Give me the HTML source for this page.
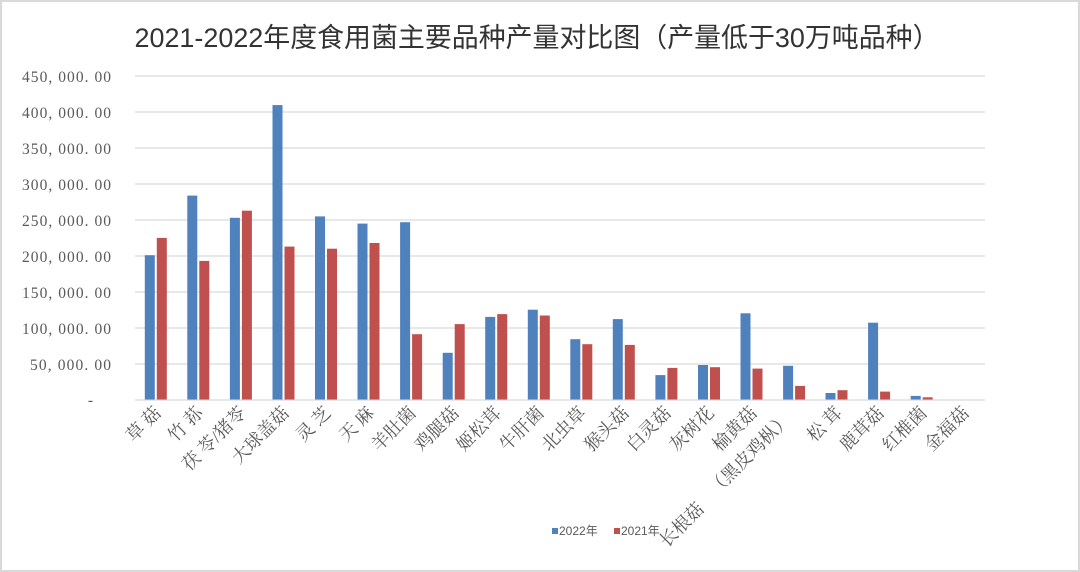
<!DOCTYPE html>
<html><head><meta charset="utf-8"><style>
html,body{margin:0;padding:0;background:#fff}
svg{display:block}
.yl{font-family:"Liberation Serif","Noto Serif CJK SC",serif;font-size:15.5px;fill:#595959;text-anchor:end}
.xl{font-family:"Liberation Serif","Noto Serif CJK SC",serif;font-size:18px;fill:#595959;text-anchor:end}
</style></head><body>
<svg width="1080" height="572" viewBox="0 0 1080 572" xmlns="http://www.w3.org/2000/svg">
<rect x="1" y="1" width="1078" height="570" fill="#fff" stroke="#d9d9d9" stroke-width="2"/>
<text x="537" y="47" text-anchor="middle" font-family="Liberation Sans,'Noto Sans CJK SC',sans-serif" font-size="27" fill="#333" textLength="805" lengthAdjust="spacingAndGlyphs">2021-2022年度食用菌主要品种产量对比图（产量低于30万吨品种）</text>
<g stroke="#d9d9d9" stroke-width="1.3">
<line x1="135" x2="985" y1="76" y2="76"/><line x1="135" x2="985" y1="112" y2="112"/><line x1="135" x2="985" y1="148" y2="148"/><line x1="135" x2="985" y1="184" y2="184"/><line x1="135" x2="985" y1="220" y2="220"/><line x1="135" x2="985" y1="256" y2="256"/><line x1="135" x2="985" y1="292" y2="292"/><line x1="135" x2="985" y1="328" y2="328"/><line x1="135" x2="985" y1="364" y2="364"/><line x1="135" x2="985" y1="400" y2="400"/>
</g>
<g class="yl" lengthAdjust="spacing">
<text x="111" y="82" textLength="89">450, 000. 00</text><text x="111" y="118" textLength="89">400, 000. 00</text><text x="111" y="154" textLength="89">350, 000. 00</text><text x="111" y="190" textLength="89">300, 000. 00</text><text x="111" y="226" textLength="89">250, 000. 00</text><text x="111" y="262" textLength="89">200, 000. 00</text><text x="111" y="298" textLength="89">150, 000. 00</text><text x="111" y="334" textLength="89">100, 000. 00</text><text x="111" y="370" textLength="81">50, 000. 00</text><text x="93" y="405">-</text>
</g>
<g fill="#4f81bd">
<rect x="144.8" y="255.2" width="10" height="144.3"/>
<rect x="187.3" y="195.6" width="10" height="203.9"/>
<rect x="229.9" y="217.8" width="10" height="181.7"/>
<rect x="272.5" y="105.1" width="10" height="294.4"/>
<rect x="315" y="216.4" width="10" height="183.1"/>
<rect x="357.5" y="223.6" width="10" height="175.9"/>
<rect x="400.1" y="222.2" width="10" height="177.3"/>
<rect x="442.7" y="352.8" width="10" height="46.7"/>
<rect x="485.2" y="316.9" width="10" height="82.6"/>
<rect x="527.8" y="309.7" width="10" height="89.8"/>
<rect x="570.3" y="339.2" width="10" height="60.3"/>
<rect x="612.8" y="319.1" width="10" height="80.4"/>
<rect x="655.4" y="375.1" width="10" height="24.4"/>
<rect x="698" y="365" width="10" height="34.5"/>
<rect x="740.5" y="313.3" width="10" height="86.2"/>
<rect x="783.1" y="365.8" width="10" height="33.7"/>
<rect x="825.5" y="393" width="10" height="6.5"/>
<rect x="868.1" y="322.7" width="10" height="76.8"/>
<rect x="910.7" y="395.9" width="10" height="3.6"/>
</g>
<g fill="#c0504d">
<rect x="156.8" y="237.9" width="10" height="161.6"/>
<rect x="199.3" y="260.9" width="10" height="138.6"/>
<rect x="241.9" y="210.7" width="10" height="188.8"/>
<rect x="284.5" y="246.6" width="10" height="152.9"/>
<rect x="327" y="248.7" width="10" height="150.8"/>
<rect x="369.5" y="243" width="10" height="156.5"/>
<rect x="412.1" y="334.2" width="10" height="65.3"/>
<rect x="454.7" y="324.1" width="10" height="75.4"/>
<rect x="497.2" y="314.1" width="10" height="85.4"/>
<rect x="539.8" y="315.5" width="10" height="84"/>
<rect x="582.3" y="344.2" width="10" height="55.3"/>
<rect x="624.8" y="344.9" width="10" height="54.6"/>
<rect x="667.4" y="367.9" width="10" height="31.6"/>
<rect x="710" y="367.2" width="10" height="32.3"/>
<rect x="752.5" y="368.6" width="10" height="30.9"/>
<rect x="795.1" y="385.9" width="10" height="13.6"/>
<rect x="837.5" y="390.2" width="10" height="9.3"/>
<rect x="880.1" y="391.6" width="10" height="7.9"/>
<rect x="922.7" y="397.3" width="10" height="2.2"/>
</g>
<g class="xl">
<text transform="translate(162,414) rotate(-45)">草  菇</text>
<text transform="translate(204,414) rotate(-45)">竹  荪</text>
<text transform="translate(247,414) rotate(-45)">茯 苓/猪苓</text>
<text transform="translate(290,414) rotate(-45)">大球盖菇</text>
<text transform="translate(332,414) rotate(-45)">灵  芝</text>
<text transform="translate(375,414) rotate(-45)">天  麻</text>
<text transform="translate(417,414) rotate(-45)">羊肚菌</text>
<text transform="translate(460,414) rotate(-45)">鸡腿菇</text>
<text transform="translate(502,414) rotate(-45)">姬松茸</text>
<text transform="translate(545,414) rotate(-45)">牛肝菌</text>
<text transform="translate(587,414) rotate(-45)">北虫草</text>
<text transform="translate(630,414) rotate(-45)">猴头菇</text>
<text transform="translate(672,414) rotate(-45)">白灵菇</text>
<text transform="translate(715,414) rotate(-45)">灰树花</text>
<text transform="translate(758,414) rotate(-45)">榆黄菇</text>
<text transform="translate(792,420) rotate(-45)">（黑皮鸡枞）</text>
<text transform="translate(705,510) rotate(-45)">长根菇</text>
<text transform="translate(843,414) rotate(-45)">松  茸</text>
<text transform="translate(885,414) rotate(-45)">鹿茸菇</text>
<text transform="translate(928,414) rotate(-45)">红椎菌</text>
<text transform="translate(970,414) rotate(-45)">金福菇</text>
</g>
<g font-family="Liberation Sans,'Noto Sans CJK SC',sans-serif" font-size="12" fill="#595959">
<rect x="552" y="528" width="6" height="6" fill="#4f81bd"/><text x="559" y="535">2022年</text>
<rect x="614" y="528" width="6" height="6" fill="#c0504d"/><text x="621" y="535">2021年</text>
</g>
</svg>
</body></html>
